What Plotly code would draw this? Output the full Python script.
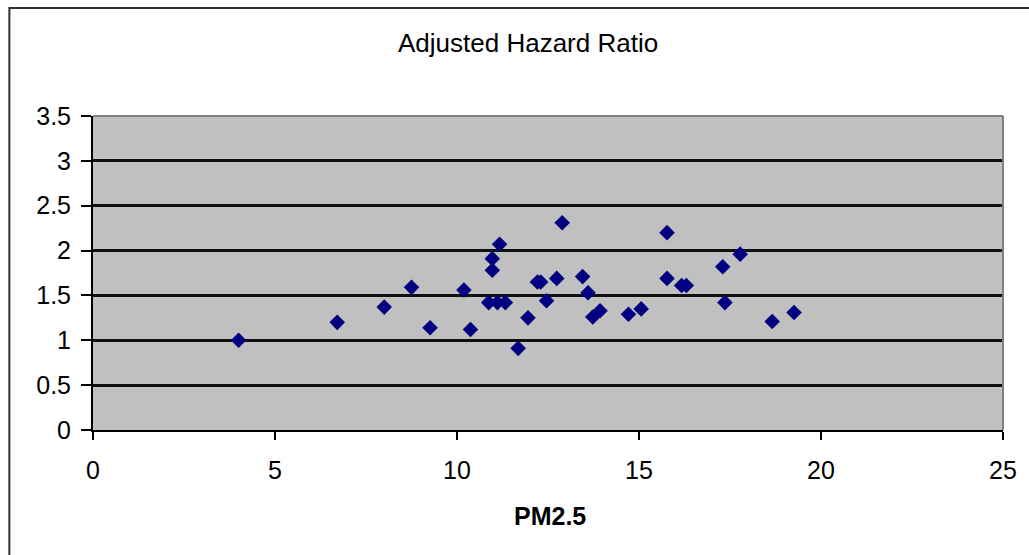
import plotly.graph_objects as go

pm25 = [4.0, 6.71, 8.0, 8.75, 9.26, 10.19, 10.37, 10.87, 11.11, 11.33,
        10.97, 10.97, 11.17, 11.68, 11.95, 12.21, 12.30, 12.46, 12.74, 12.89,
        13.45, 13.60, 13.73, 13.93, 14.71, 15.06, 15.77, 15.77, 16.17, 16.30,
        17.30, 17.78, 17.36, 18.66, 19.26]
hazard = [1.00, 1.20, 1.37, 1.59, 1.14, 1.56, 1.12, 1.42, 1.42, 1.42,
          1.78, 1.91, 2.07, 0.91, 1.25, 1.65, 1.65, 1.44, 1.69, 2.31,
          1.71, 1.53, 1.26, 1.33, 1.29, 1.35, 2.20, 1.69, 1.61, 1.61,
          1.82, 1.96, 1.42, 1.21, 1.31]

x_ticks = [0, 5, 10, 15, 20, 25]
y_ticks = [0, 0.5, 1, 1.5, 2, 2.5, 3, 3.5]
y_ticklabels = ["0", "0.5", "1", "1.5", "2", "2.5", "3", "3.5"]

W, H = 1029, 555
L, R, T, B = 93, 1007, 116, 430
pw, ph = R - L, B - T

def px(xp):
    return (xp - L) / pw

def py(yp):
    return (B - yp) / ph

fig = go.Figure()
fig.add_trace(go.Scatter(
    x=pm25, y=hazard, mode="markers",
    marker=dict(symbol="diamond", size=12, color="#000080",
                line=dict(width=0)),
    showlegend=False, hoverinfo="x+y"))

font = "Arial, 'Liberation Sans', sans-serif"

fig.update_layout(
    width=W, height=H,
    margin=dict(l=L, r=W - R, t=T, b=H - B),
    paper_bgcolor="white",
    plot_bgcolor="#C0C0C0",
    font=dict(family=font, size=25, color="black"),
    xaxis=dict(range=[0, 25], tickvals=x_ticks, ticktext=[str(v) for v in x_ticks],
               showgrid=False, zeroline=False, showline=True, linecolor="black",
               linewidth=2, ticks="outside", ticklen=8, tickwidth=2,
               tickcolor="black", ticklabelstandoff=9,
               tickfont=dict(family=font, size=25, color="black")),
    yaxis=dict(range=[0, 3.5], tickvals=y_ticks, ticktext=y_ticklabels,
               showgrid=True, gridcolor="#101010", gridwidth=2.5,
               zeroline=False, showline=True, linecolor="black",
               linewidth=2, ticks="outside", ticklen=10, tickwidth=2,
               tickcolor="black", ticklabelstandoff=5,
               tickfont=dict(family=font, size=25, color="black")),
    shapes=[
        dict(type="rect", xref="paper", yref="paper",
             x0=px(9), x1=px(1040), y0=py(565), y1=py(8),
             line=dict(color="#303030", width=2), fillcolor="rgba(0,0,0,0)",
             layer="below"),
        dict(type="line", xref="paper", yref="paper",
             x0=0, x1=1, y0=1, y1=1, line=dict(color="#808080", width=2)),
        dict(type="line", xref="paper", yref="paper",
             x0=1, x1=1, y0=0, y1=1, line=dict(color="#808080", width=2)),
    ],
    annotations=[
        dict(text="Adjusted Hazard Ratio", xref="paper", yref="paper",
             x=px(530), y=py(43), xanchor="center", yanchor="middle",
             showarrow=False, font=dict(family=font, size=26, color="black")),
        dict(text="<b>PM2.5</b>", xref="paper", yref="paper",
             x=px(552), y=py(516), xanchor="center", yanchor="middle",
             showarrow=False, font=dict(family=font, size=25, color="black")),
    ],
)

fig.write_html("out.html")
